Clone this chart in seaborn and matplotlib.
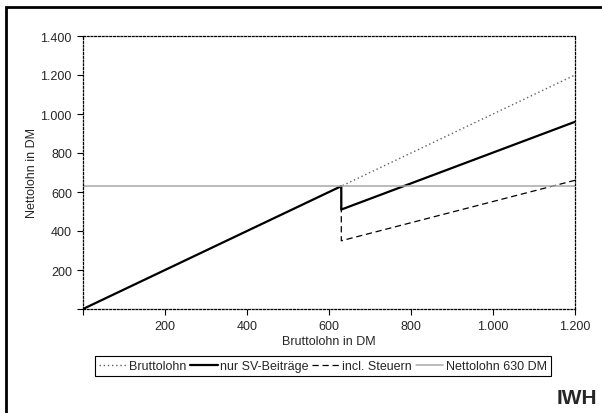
import numpy as np
import pandas as pd
import matplotlib
matplotlib.use('Agg')
import matplotlib.pyplot as plt
import seaborn as sns
from matplotlib.patches import Rectangle
from matplotlib.ticker import FuncFormatter

# data (DM)
brutto_x = [0, 1200]
brutto_y = [0, 1200]
sv_x = [0, 630, 630, 1200]
sv_y = [0, 630, 510, 960]
steuer_x = [630, 630, 1200]
steuer_y = [630, 350, 660]
netto_x = [0, 1200]
netto_y = [630, 630]

x_ticks = [0, 200, 400, 600, 800, 1000, 1200]
y_ticks = [0, 200, 400, 600, 800, 1000, 1200, 1400]

sns.set_style('white')
plt.rcParams['font.family'] = ['Liberation Sans', 'DejaVu Sans']

fig = plt.figure(figsize=(6.02, 4.14), dpi=100)
ax = fig.add_axes([83/602, 1 - 310/414, (575 - 83)/602, (310 - 37)/414])

sns.lineplot(x=brutto_x, y=brutto_y, ax=ax, color='#606060', lw=1,
             linestyle=(0, (1, 2)), sort=False, estimator=None, label='Bruttolohn')
sns.lineplot(x=sv_x, y=sv_y, ax=ax, color='black', lw=1.6,
             sort=False, estimator=None, label='nur SV-Beiträge')
sns.lineplot(x=steuer_x, y=steuer_y, ax=ax, color='black', lw=0.9,
             linestyle=(0, (5, 3)), sort=False, estimator=None, label='incl. Steuern')
sns.lineplot(x=netto_x, y=netto_y, ax=ax, color='#a8a8a8', lw=1.1,
             sort=False, estimator=None, label='Nettolohn 630 DM')

ax.set_xlim(0, 1200)
ax.set_ylim(0, 1400)
ax.set_xticks(x_ticks)
ax.set_yticks(y_ticks)

def de_fmt(v, pos):
    if v == 0:
        return ''
    return f'{int(v):,}'.replace(',', '.')

ax.xaxis.set_major_formatter(FuncFormatter(de_fmt))
ax.yaxis.set_major_formatter(FuncFormatter(de_fmt))
ax.tick_params(axis='both', direction='out', length=4, width=0.8, color='black',
               labelsize=9, pad=4, bottom=True, left=True)

for s in ax.spines.values():
    s.set_linestyle((0, (1.5, 1.5)))
    s.set_linewidth(0.9)
    s.set_color('black')

ax.set_xlabel('Bruttolohn in DM', fontsize=9, labelpad=2)
ax.set_ylabel('Nettolohn in DM', fontsize=9, labelpad=2)

ax.legend(loc='center', bbox_to_anchor=(323/602, 1 - 367/414),
          bbox_transform=fig.transFigure, ncol=4, fontsize=9,
          frameon=True, fancybox=False, edgecolor='black', framealpha=1,
          handlelength=2.2, handletextpad=0.2, columnspacing=0.3,
          borderpad=0.3, borderaxespad=0)
ax.get_legend().get_frame().set_linewidth(0.8)

fig.text(597/602, 1 - 399/414, 'IWH', fontsize=15, fontweight='bold',
         ha='right', va='center')

fig.patches.append(Rectangle((6/602, -0.1), 1.0, 1 - 8/414 + 0.1,
                             transform=fig.transFigure, fill=False,
                             lw=2, edgecolor='black'))

fig.savefig('out.png', dpi=100)
